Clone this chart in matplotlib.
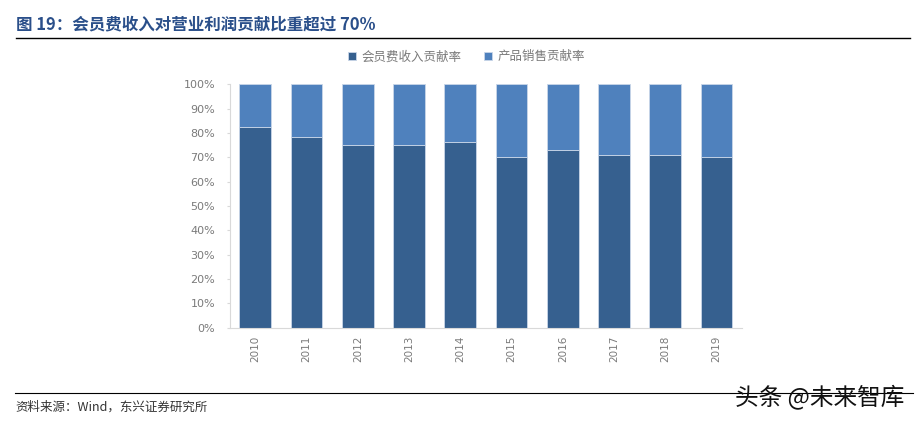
import matplotlib
matplotlib.use('Agg')
import matplotlib.pyplot as plt
import numpy as np
from matplotlib.lines import Line2D

plt.rcParams['font.family'] = ['Noto Sans CJK SC', 'DejaVu Sans']

# data
years = ['2010', '2011', '2012', '2013', '2014', '2015', '2016', '2017', '2018', '2019']
member_fee = [82.6, 78.5, 75.0, 75.0, 76.2, 70.3, 73.0, 70.8, 70.8, 70.3]
product_sales = [100 - v for v in member_fee]
yticks = [0, 10, 20, 30, 40, 50, 60, 70, 80, 90, 100]

dark = '#36608F'
light = '#4F81BD'
grey = '#7A7A7A'

fig = plt.figure(figsize=(9.17, 4.21), dpi=100)
ax = fig.add_axes([0.2505, 0.2216, 0.8093 - 0.2505, 0.7998 - 0.2216])

x = np.arange(len(years))
ax.bar(x, member_fee, width=0.62, color=dark, edgecolor='#C9D6E8', linewidth=0.6,
       label='会员费收入贡献率')
ax.bar(x, product_sales, width=0.62, bottom=member_fee, color=light,
       edgecolor='#C9D6E8', linewidth=0.6, label='产品销售贡献率')

ax.set_xlim(-0.5, len(years) - 0.5)
ax.set_ylim(0, 100)
ax.set_yticks(yticks)
ax.set_yticklabels([f'{v}%' for v in yticks], fontsize=8, color=grey, family=['DejaVu Sans'])
ax.set_xticks(x)
ax.set_xticklabels(years, rotation=90, fontsize=7.5, color=grey, family=['DejaVu Sans'])
ax.tick_params(axis='y', length=2.5, color='#D9D9D9', pad=8)
ax.tick_params(axis='x', length=0, pad=6)
for s in ['top', 'right']:
    ax.spines[s].set_visible(False)
ax.spines['left'].set_color('#D9D9D9')
ax.spines['bottom'].set_color('#D9D9D9')

fig.legend(loc='center', bbox_to_anchor=(0.509, 0.865), ncol=2, frameon=False,
           fontsize=9, handlelength=0.6, handleheight=0.6, columnspacing=1.8,
           handletextpad=0.5, labelcolor=grey)

# title and rules
fig.text(0.017, 0.943, '图 19：会员费收入对营业利润贡献比重超过 70%', fontsize=11.9,
         fontweight='bold', color='#2A4F8A', va='center', ha='left')
fig.add_artist(Line2D([0.017, 0.992], [0.909, 0.909], color='black', linewidth=1.0))
fig.add_artist(Line2D([0.016, 0.996], [0.066, 0.066], color='black', linewidth=0.8))
fig.text(0.017, 0.033, '资料来源：Wind，东兴证券研究所', fontsize=9, style='italic',
         color='#333333', va='center', ha='left')
fig.text(0.986, 0.057, '头条 @未来智库', fontsize=17, color='#111111', va='center', ha='right')

fig.savefig('out.png', dpi=100)
